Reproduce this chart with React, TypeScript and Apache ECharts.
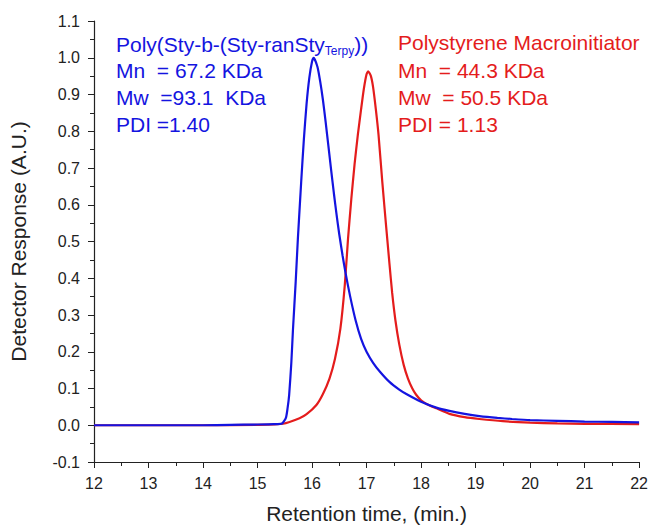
import React, { useEffect, useRef } from "react";
import * as echarts from "echarts";

const blueTime = [12, 13, 14, 14.5, 15, 15.3, 15.45, 15.52, 15.55, 15.58, 15.62, 15.65, 15.7, 15.74, 15.8, 15.85, 15.9, 15.95, 16.0, 16.03, 16.1, 16.15, 16.2, 16.25, 16.3, 16.35, 16.4, 16.45, 16.5, 16.56, 16.62, 16.7, 16.8, 16.9, 17.0, 17.12, 17.25, 17.42, 17.6, 17.73, 18.0, 18.28, 18.52, 18.8, 19.07, 19.4, 19.67, 20.0, 20.5, 21.0, 21.5, 22];
const blueResp = [0, 0, 0, 0.001, 0.002, 0.003, 0.005, 0.02, 0.045, 0.082, 0.17, 0.26, 0.39, 0.507, 0.66, 0.778, 0.875, 0.945, 0.99, 1.0, 0.975, 0.935, 0.885, 0.825, 0.76, 0.695, 0.632, 0.573, 0.519, 0.462, 0.41, 0.35, 0.285, 0.235, 0.2, 0.17, 0.145, 0.118, 0.097, 0.085, 0.064, 0.048, 0.039, 0.031, 0.025, 0.02, 0.017, 0.014, 0.012, 0.01, 0.009, 0.008];

const redTime = [12, 14, 15, 15.47, 15.77, 15.9, 16.08, 16.2, 16.32, 16.42, 16.52, 16.6, 16.66, 16.72, 16.78, 16.84, 16.9, 16.95, 17.0, 17.03, 17.08, 17.12, 17.17, 17.22, 17.29, 17.36, 17.42, 17.47, 17.53, 17.6, 17.68, 17.76, 17.84, 17.91, 18.0, 18.1, 18.28, 18.52, 18.8, 19.07, 19.5, 20.0, 20.5, 21.0, 22];
const redResp = [0, 0, 0.001, 0.004, 0.019, 0.03, 0.055, 0.085, 0.127, 0.18, 0.263, 0.38, 0.507, 0.615, 0.71, 0.79, 0.86, 0.915, 0.955, 0.963, 0.95, 0.92, 0.86, 0.79, 0.66, 0.54, 0.44, 0.36, 0.285, 0.22, 0.165, 0.127, 0.1, 0.083, 0.068, 0.058, 0.046, 0.031, 0.022, 0.017, 0.011, 0.007, 0.005, 0.004, 0.003];

const blueLabel = ["Mn  = 67.2 KDa", "Mw  =93.1  KDa", "PDI =1.40"];
const redLabel = ["Polystyrene Macroinitiator", "Mn  = 44.3 KDa", "Mw  = 50.5 KDa", "PDI = 1.13"];

const BLUE = "#1414e0";
const RED = "#e41c1c";
const FONT = "Liberation Sans, Arial, sans-serif";

export default function App() {
  const ref = useRef<HTMLDivElement>(null);
  useEffect(() => {
    const chart = echarts.init(ref.current!, undefined, { renderer: "svg" });
    const lineCenters = [44, 72, 99, 126];
    const graphics: any[] = [];
    graphics.push({
      type: "text",
      left: 116,
      top: lineCenters[0] - 13,
      style: {
        text: "{a|Poly(Sty-b-(Sty-ranSty}{sub|Terpy}{a|))}",
        fill: BLUE,
        font: `21px ${FONT}`,
        rich: {
          a: { fontSize: 21, fontFamily: FONT, fill: BLUE, lineHeight: 24 },
          sub: { fontSize: 12, fontFamily: FONT, fill: BLUE, padding: [14, 0, 0, 0], lineHeight: 14 },
        },
      },
    });
    blueLabel.forEach((t, i) => {
      graphics.push({
        type: "text",
        left: 116,
        top: lineCenters[i + 1] - 12,
        style: { text: t, fill: BLUE, font: `21px ${FONT}` },
      });
    });
    redLabel.forEach((t, i) => {
      graphics.push({
        type: "text",
        left: 398,
        top: lineCenters[i] - 12,
        style: { text: t, fill: RED, font: `21px ${FONT}` },
      });
    });

    chart.setOption({
      animation: false,
      backgroundColor: "#fff",
      grid: { left: 94, right: 11, top: 21, bottom: 65 },
      xAxis: {
        type: "value",
        min: 12,
        max: 22,
        interval: 1,
        name: "Retention time, (min.)",
        nameLocation: "middle",
        nameGap: 41,
        nameTextStyle: { fontSize: 21, fontFamily: FONT, color: "#222" },
        axisLine: { show: true, onZero: false, lineStyle: { color: "#222", width: 1.2 } },
        axisTick: { show: true, length: 6, lineStyle: { color: "#222" } },
        minorTick: { show: true, splitNumber: 2, length: 4, lineStyle: { color: "#222" } },
        axisLabel: { fontSize: 16, fontFamily: FONT, color: "#222", margin: 13 },
        splitLine: { show: false },
      },
      yAxis: {
        type: "value",
        min: -0.1,
        max: 1.1,
        interval: 0.1,
        name: "Detector Response (A.U.)",
        nameLocation: "middle",
        nameGap: 65,
        nameTextStyle: { fontSize: 21, fontFamily: FONT, color: "#222" },
        axisLine: { show: true, onZero: false, lineStyle: { color: "#222", width: 1.2 } },
        axisTick: { show: true, length: 6, lineStyle: { color: "#222" } },
        minorTick: { show: true, splitNumber: 2, length: 4, lineStyle: { color: "#222" } },
        axisLabel: {
          fontSize: 16,
          fontFamily: FONT,
          color: "#222",
          margin: 14,
          formatter: (v: number) => (Math.abs(v) < 1e-9 ? "0.0" : v.toFixed(1)),
        },
        splitLine: { show: false },
      },
      series: [
        {
          name: "Polystyrene Macroinitiator",
          type: "line",
          data: redTime.map((t, i) => [t, redResp[i]]),
          showSymbol: false,
          smooth: 0.2,
          lineStyle: { color: RED, width: 2.2 },
          z: 2,
        },
        {
          name: "Poly(Sty-b-(Sty-ranSty_Terpy))",
          type: "line",
          data: blueTime.map((t, i) => [t, blueResp[i]]),
          showSymbol: false,
          smooth: 0.2,
          lineStyle: { color: BLUE, width: 2.2 },
          z: 3,
        },
      ],
      graphic: graphics,
    });
    return () => chart.dispose();
  }, []);
  return (
    <div
      ref={ref}
      style={{ position: "fixed", left: 0, top: 0, width: 651, height: 529 }}
    />
  );
}
